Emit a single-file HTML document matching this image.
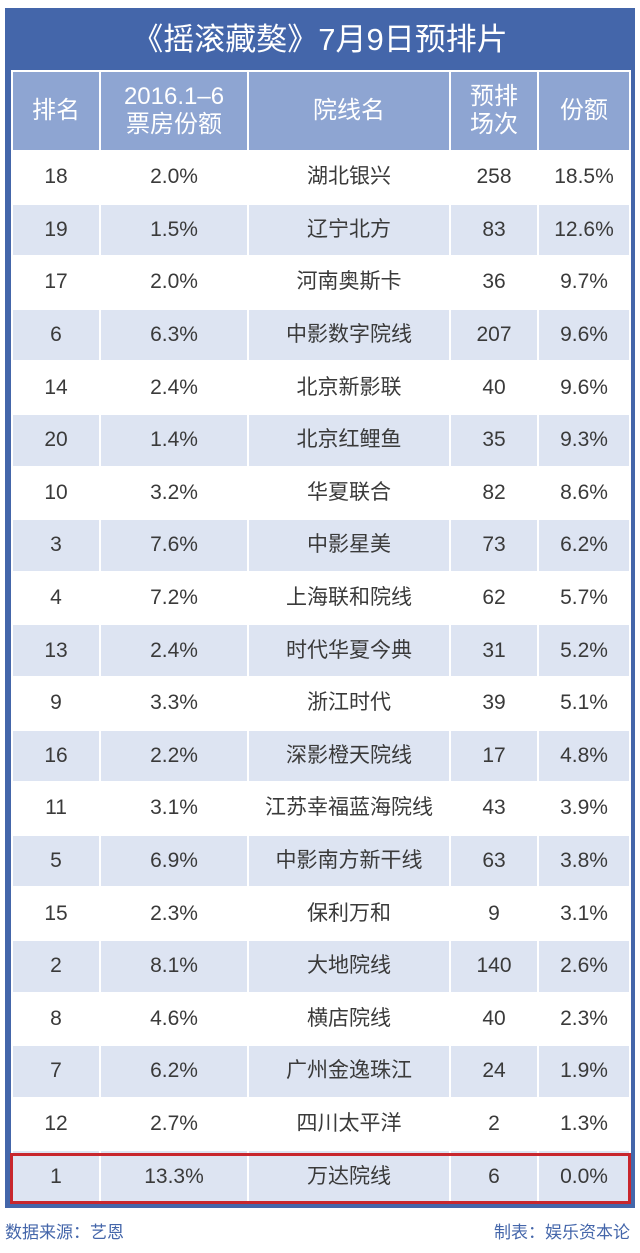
<!DOCTYPE html>
<html><head><meta charset="utf-8"><style>
body{margin:0;width:640px;height:1253px;background:#fff;font-family:"Liberation Sans","Noto Sans CJK SC",sans-serif;position:relative;overflow:hidden}
.frame{position:absolute;left:5px;top:8px;width:630px;height:1200px;background:#4466aa}
.title{position:absolute;left:0;top:0;width:630px;height:62px;line-height:64px;text-align:center;color:#fff;font-size:31px}
table{position:absolute;left:6px;top:62px;border-collapse:collapse;table-layout:fixed}
td{text-align:center;color:#3a3a3a;font-size:21px;line-height:24px;padding:0;border:2px solid #fff;height:50.6px}
th{background:#8ea5d2;color:#fff;font-weight:normal;font-size:24px;line-height:28px;border:2px solid #fff;height:76px}
tr.w td{background:#fff}
tr.b td{background:#dde4f2}
.red{position:absolute;left:10px;top:1153px;width:615px;height:45px;border:3px solid #c8262d}
.foot{position:absolute;top:1218px;font-size:17px;color:#4466aa}
</style></head><body>
<div class="frame"><div class="title">《摇滚藏獒》7月9日预排片</div>
<table>
<colgroup><col style="width:88px"><col style="width:148px"><col style="width:202px"><col style="width:88px"><col style="width:92px"></colgroup>
<tr><th>排名</th><th>2016.1–6<br>票房份额</th><th>院线名</th><th>预排<br>场次</th><th>份额</th></tr>
<tr class="w"><td>18</td><td>2.0%</td><td>湖北银兴</td><td>258</td><td>18.5%</td></tr>
<tr class="b"><td>19</td><td>1.5%</td><td>辽宁北方</td><td>83</td><td>12.6%</td></tr>
<tr class="w"><td>17</td><td>2.0%</td><td>河南奥斯卡</td><td>36</td><td>9.7%</td></tr>
<tr class="b"><td>6</td><td>6.3%</td><td>中影数字院线</td><td>207</td><td>9.6%</td></tr>
<tr class="w"><td>14</td><td>2.4%</td><td>北京新影联</td><td>40</td><td>9.6%</td></tr>
<tr class="b"><td>20</td><td>1.4%</td><td>北京红鲤鱼</td><td>35</td><td>9.3%</td></tr>
<tr class="w"><td>10</td><td>3.2%</td><td>华夏联合</td><td>82</td><td>8.6%</td></tr>
<tr class="b"><td>3</td><td>7.6%</td><td>中影星美</td><td>73</td><td>6.2%</td></tr>
<tr class="w"><td>4</td><td>7.2%</td><td>上海联和院线</td><td>62</td><td>5.7%</td></tr>
<tr class="b"><td>13</td><td>2.4%</td><td>时代华夏今典</td><td>31</td><td>5.2%</td></tr>
<tr class="w"><td>9</td><td>3.3%</td><td>浙江时代</td><td>39</td><td>5.1%</td></tr>
<tr class="b"><td>16</td><td>2.2%</td><td>深影橙天院线</td><td>17</td><td>4.8%</td></tr>
<tr class="w"><td>11</td><td>3.1%</td><td>江苏幸福蓝海院线</td><td>43</td><td>3.9%</td></tr>
<tr class="b"><td>5</td><td>6.9%</td><td>中影南方新干线</td><td>63</td><td>3.8%</td></tr>
<tr class="w"><td>15</td><td>2.3%</td><td>保利万和</td><td>9</td><td>3.1%</td></tr>
<tr class="b"><td>2</td><td>8.1%</td><td>大地院线</td><td>140</td><td>2.6%</td></tr>
<tr class="w"><td>8</td><td>4.6%</td><td>横店院线</td><td>40</td><td>2.3%</td></tr>
<tr class="b"><td>7</td><td>6.2%</td><td>广州金逸珠江</td><td>24</td><td>1.9%</td></tr>
<tr class="w"><td>12</td><td>2.7%</td><td>四川太平洋</td><td>2</td><td>1.3%</td></tr>
<tr class="b"><td>1</td><td>13.3%</td><td>万达院线</td><td>6</td><td>0.0%</td></tr>
</table></div>
<div class="red"></div>
<div class="foot" style="left:5px">数据来源：艺恩</div>
<div class="foot" style="right:10px">制表：娱乐资本论</div>
</body></html>
